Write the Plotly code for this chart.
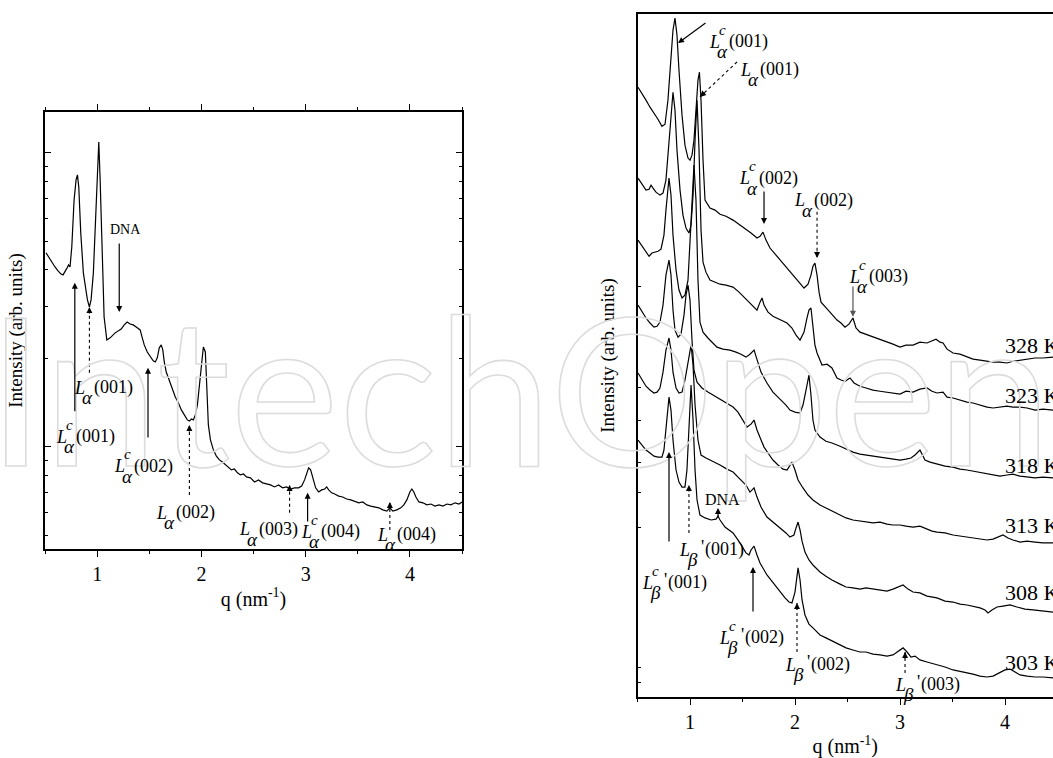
import numpy as np
import plotly.graph_objects as go

SERIF = "Liberation Serif"
W, H = 1053, 758

# ---------------- left panel: complex at room temperature ----------------
q_left = [0.510, 0.538, 0.567, 0.596, 0.625, 0.654, 0.673, 0.692, 0.712, 0.726,
          0.740, 0.757, 0.769, 0.779, 0.798, 0.811, 0.824, 0.843, 0.868, 0.885,
          0.907, 0.926, 0.942, 0.964, 0.981, 0.997, 1.016, 1.029, 1.045, 1.067,
          1.093, 1.125, 1.173, 1.202, 1.231, 1.260, 1.288, 1.317, 1.346, 1.375,
          1.413, 1.433, 1.452, 1.481, 1.510, 1.538, 1.558, 1.577, 1.596, 1.615,
          1.630, 1.644, 1.663, 1.692, 1.721, 1.750, 1.779, 1.808, 1.837, 1.865,
          1.885, 1.904, 1.923, 1.942, 1.962, 1.981, 2.000, 2.019, 2.038, 2.053,
          2.067, 2.087, 2.115, 2.144, 2.173, 2.202, 2.231, 2.260, 2.288, 2.317,
          2.346, 2.375, 2.404, 2.433, 2.471, 2.510, 2.548, 2.587, 2.625, 2.663,
          2.702, 2.740, 2.779, 2.817, 2.856, 2.894, 2.933, 2.962, 2.990, 3.010,
          3.029, 3.048, 3.067, 3.096, 3.125, 3.154, 3.183, 3.202, 3.221, 3.250,
          3.279, 3.317, 3.356, 3.394, 3.433, 3.471, 3.510, 3.548, 3.587, 3.625,
          3.663, 3.702, 3.740, 3.779, 3.808, 3.837, 3.875, 3.913, 3.942, 3.971,
          4.000, 4.019, 4.038, 4.058, 4.087, 4.125, 4.163, 4.202, 4.240, 4.279,
          4.317, 4.356, 4.394, 4.433, 4.471, 4.500]
# log10 of the intensity (arb. units)
lg_left = [0.660, 0.643, 0.629, 0.612, 0.599, 0.588, 0.585, 0.595, 0.609, 0.619,
           0.612, 0.680, 0.755, 0.840, 0.908, 0.925, 0.884, 0.728, 0.592, 0.544,
           0.500, 0.476, 0.500, 0.592, 0.738, 0.898, 1.037, 0.908, 0.704, 0.442,
           0.364, 0.371, 0.388, 0.395, 0.401, 0.415, 0.425, 0.418, 0.415, 0.408,
           0.398, 0.371, 0.347, 0.323, 0.306, 0.293, 0.289, 0.303, 0.337, 0.347,
           0.330, 0.289, 0.255, 0.228, 0.194, 0.170, 0.150, 0.126, 0.109, 0.092,
           0.088, 0.095, 0.092, 0.109, 0.143, 0.211, 0.296, 0.340, 0.323, 0.194,
           0.075, 0.024, -0.010, -0.031, -0.044, -0.051, -0.061, -0.071, -0.078, -0.075,
           -0.088, -0.095, -0.092, -0.102, -0.105, -0.119, -0.112, -0.122, -0.126, -0.129,
           -0.136, -0.129, -0.139, -0.136, -0.143, -0.139, -0.139, -0.133, -0.112, -0.088,
           -0.071, -0.078, -0.105, -0.139, -0.153, -0.146, -0.143, -0.136, -0.146, -0.156,
           -0.160, -0.167, -0.170, -0.177, -0.180, -0.184, -0.190, -0.187, -0.197, -0.201,
           -0.204, -0.207, -0.214, -0.218, -0.207, -0.218, -0.214, -0.207, -0.197, -0.180,
           -0.153, -0.143, -0.153, -0.170, -0.187, -0.190, -0.197, -0.194, -0.201, -0.197,
           -0.201, -0.194, -0.197, -0.190, -0.194, -0.187]

# ---------------- right panel: temperature scan (curves shifted) ----------------
temps = ["328 K", "323 K", "318 K", "313 K", "308 K", "303 K"]

q_328 = [0.505, 0.543, 0.581, 0.619, 0.657, 0.695, 0.733, 0.762, 0.790, 0.819,
         0.838, 0.857, 0.876, 0.895, 0.924, 0.952, 0.981, 1.000, 1.019, 1.038,
         1.057, 1.076, 1.090, 1.105, 1.124, 1.143, 1.190, 1.238, 1.286, 1.343,
         1.410, 1.467, 1.524, 1.581, 1.638, 1.667, 1.695, 1.724, 1.762, 1.829,
         1.886, 1.943, 2.000, 2.048, 2.086, 2.124, 2.152, 2.171, 2.190, 2.210,
         2.229, 2.248, 2.286, 2.333, 2.400, 2.438, 2.476, 2.514, 2.552, 2.581,
         2.619, 2.676, 2.743, 2.810, 2.876, 2.933, 3.000, 3.057, 3.124, 3.190,
         3.257, 3.305, 3.343, 3.381, 3.410, 3.448, 3.505, 3.571, 3.638, 3.695,
         3.762, 3.829, 3.886, 3.952, 4.019, 4.076, 4.143, 4.210, 4.286, 4.362,
         4.457]
lg_328 = [2.074, 2.054, 2.030, 2.006, 1.986, 1.965, 1.941, 1.948, 2.030, 2.183,
          2.268, 2.309, 2.251, 2.132, 1.979, 1.877, 1.833, 1.826, 1.843, 1.894,
          1.996, 2.098, 2.125, 2.030, 1.826, 1.690, 1.663, 1.656, 1.642, 1.635,
          1.622, 1.608, 1.591, 1.578, 1.561, 1.567, 1.581, 1.554, 1.527, 1.499,
          1.472, 1.448, 1.425, 1.404, 1.391, 1.404, 1.435, 1.465, 1.476, 1.435,
          1.377, 1.343, 1.326, 1.309, 1.282, 1.272, 1.258, 1.268, 1.289, 1.255,
          1.241, 1.234, 1.224, 1.217, 1.207, 1.200, 1.190, 1.197, 1.197, 1.207,
          1.204, 1.210, 1.217, 1.207, 1.204, 1.183, 1.170, 1.166, 1.156, 1.149,
          1.146, 1.142, 1.139, 1.139, 1.136, 1.142, 1.146, 1.149, 1.153, 1.153,
          1.156]

q_323 = [0.505, 0.543, 0.581, 0.610, 0.629, 0.648, 0.676, 0.714, 0.743, 0.771,
         0.800, 0.819, 0.838, 0.857, 0.876, 0.905, 0.933, 0.962, 0.990, 1.010,
         1.029, 1.048, 1.067, 1.086, 1.105, 1.124, 1.152, 1.190, 1.238, 1.286,
         1.343, 1.410, 1.467, 1.524, 1.581, 1.638, 1.667, 1.686, 1.705, 1.743,
         1.790, 1.848, 1.924, 1.971, 2.010, 2.048, 2.086, 2.114, 2.133, 2.152,
         2.171, 2.190, 2.210, 2.257, 2.305, 2.352, 2.400, 2.438, 2.476, 2.524,
         2.562, 2.619, 2.676, 2.743, 2.810, 2.876, 2.933, 3.000, 3.057, 3.124,
         3.190, 3.257, 3.305, 3.352, 3.410, 3.448, 3.505, 3.571, 3.638, 3.695,
         3.762, 3.829, 3.886, 3.952, 4.019, 4.076, 4.143, 4.210, 4.286, 4.362,
         4.457]
lg_323 = [1.765, 1.744, 1.724, 1.727, 1.741, 1.731, 1.717, 1.707, 1.714, 1.758,
          1.894, 1.996, 2.057, 1.996, 1.860, 1.724, 1.639, 1.595, 1.578, 1.605,
          1.707, 1.894, 2.030, 1.860, 1.588, 1.479, 1.445, 1.418, 1.411, 1.404,
          1.401, 1.394, 1.377, 1.357, 1.336, 1.316, 1.343, 1.357, 1.333, 1.309,
          1.295, 1.285, 1.272, 1.255, 1.231, 1.214, 1.241, 1.289, 1.316, 1.323,
          1.265, 1.197, 1.170, 1.129, 1.132, 1.119, 1.085, 1.078, 1.074, 1.085,
          1.068, 1.057, 1.051, 1.044, 1.040, 1.037, 1.034, 1.030, 1.040, 1.037,
          1.047, 1.051, 1.040, 1.034, 1.037, 1.020, 1.017, 1.010, 1.003, 1.000,
          0.993, 0.986, 0.983, 0.986, 0.989, 0.986, 0.986, 0.983, 0.976, 0.979,
          0.976]

q_318 = [0.505, 0.543, 0.581, 0.610, 0.638, 0.667, 0.695, 0.724, 0.752, 0.771,
         0.790, 0.800, 0.819, 0.838, 0.867, 0.895, 0.924, 0.952, 0.981, 1.000,
         1.019, 1.038, 1.057, 1.076, 1.095, 1.124, 1.171, 1.219, 1.257, 1.314,
         1.381, 1.438, 1.486, 1.533, 1.571, 1.610, 1.638, 1.676, 1.733, 1.790,
         1.857, 1.914, 1.952, 2.000, 2.048, 2.076, 2.105, 2.133, 2.152, 2.171,
         2.190, 2.238, 2.295, 2.352, 2.429, 2.486, 2.552, 2.619, 2.676, 2.743,
         2.810, 2.876, 2.933, 3.000, 3.057, 3.105, 3.143, 3.171, 3.190, 3.210,
         3.238, 3.286, 3.352, 3.429, 3.505, 3.571, 3.638, 3.695, 3.762, 3.829,
         3.886, 3.952, 4.019, 4.076, 4.143, 4.210, 4.286, 4.362, 4.457]
lg_318 = [1.554, 1.533, 1.513, 1.499, 1.510, 1.513, 1.516, 1.523, 1.571, 1.656,
          1.741, 1.765, 1.707, 1.571, 1.452, 1.384, 1.357, 1.367, 1.418, 1.554,
          1.724, 1.809, 1.690, 1.418, 1.275, 1.241, 1.221, 1.204, 1.190, 1.183,
          1.180, 1.173, 1.166, 1.156, 1.166, 1.180, 1.146, 1.105, 1.068, 1.037,
          1.013, 0.993, 0.976, 0.969, 0.966, 0.993, 1.044, 1.095, 1.027, 0.942,
          0.908, 0.884, 0.870, 0.864, 0.853, 0.843, 0.833, 0.826, 0.823, 0.819,
          0.816, 0.813, 0.809, 0.806, 0.809, 0.813, 0.823, 0.833, 0.840, 0.826,
          0.806, 0.799, 0.792, 0.785, 0.782, 0.775, 0.772, 0.768, 0.765, 0.758,
          0.755, 0.751, 0.755, 0.758, 0.751, 0.748, 0.745, 0.748, 0.745]

q_313 = [0.505, 0.543, 0.581, 0.619, 0.657, 0.686, 0.714, 0.743, 0.771, 0.800,
         0.819, 0.838, 0.857, 0.886, 0.914, 0.943, 0.962, 0.981, 1.000, 1.019,
         1.038, 1.067, 1.114, 1.171, 1.238, 1.305, 1.362, 1.410, 1.457, 1.505,
         1.543, 1.581, 1.610, 1.638, 1.667, 1.705, 1.743, 1.790, 1.838, 1.886,
         1.924, 1.952, 1.971, 2.000, 2.029, 2.076, 2.124, 2.171, 2.238, 2.295,
         2.352, 2.429, 2.486, 2.552, 2.619, 2.676, 2.743, 2.810, 2.876, 2.933,
         3.000, 3.057, 3.124, 3.190, 3.257, 3.305, 3.352, 3.429, 3.505, 3.571,
         3.638, 3.695, 3.762, 3.829, 3.886, 3.933, 3.981, 4.029, 4.076, 4.143,
         4.210, 4.286, 4.362, 4.457]
lg_313 = [1.333, 1.309, 1.289, 1.272, 1.258, 1.261, 1.275, 1.333, 1.435, 1.486,
          1.435, 1.316, 1.248, 1.224, 1.234, 1.299, 1.367, 1.401, 1.350, 1.214,
          1.112, 1.071, 1.051, 1.037, 1.023, 1.010, 0.996, 0.986, 0.969, 0.942,
          0.918, 0.928, 0.942, 0.908, 0.881, 0.850, 0.830, 0.806, 0.789, 0.775,
          0.772, 0.789, 0.799, 0.772, 0.738, 0.711, 0.687, 0.670, 0.653, 0.643,
          0.632, 0.619, 0.609, 0.602, 0.598, 0.595, 0.592, 0.595, 0.588, 0.585,
          0.585, 0.581, 0.578, 0.581, 0.571, 0.564, 0.561, 0.558, 0.551, 0.547,
          0.544, 0.541, 0.537, 0.534, 0.537, 0.544, 0.551, 0.541, 0.534, 0.527,
          0.530, 0.527, 0.524, 0.524]

q_308 = [0.505, 0.543, 0.581, 0.619, 0.657, 0.686, 0.714, 0.743, 0.771, 0.800,
         0.819, 0.838, 0.867, 0.895, 0.924, 0.952, 0.981, 1.010, 1.029, 1.048,
         1.076, 1.105, 1.152, 1.219, 1.286, 1.352, 1.410, 1.476, 1.533, 1.571,
         1.610, 1.638, 1.676, 1.733, 1.790, 1.857, 1.914, 1.952, 1.990, 2.010,
         2.029, 2.048, 2.067, 2.095, 2.133, 2.171, 2.238, 2.295, 2.352, 2.429,
         2.486, 2.552, 2.619, 2.676, 2.743, 2.810, 2.876, 2.933, 2.981, 3.029,
         3.076, 3.124, 3.190, 3.257, 3.352, 3.429, 3.505, 3.571, 3.638, 3.695,
         3.762, 3.810, 3.838, 3.876, 3.924, 3.981, 4.048, 4.114, 4.190, 4.267,
         4.362, 4.457]
lg_308 = [1.102, 1.078, 1.057, 1.044, 1.034, 1.037, 1.051, 1.105, 1.180, 1.221,
          1.180, 1.105, 1.051, 1.034, 1.037, 1.078, 1.139, 1.197, 1.129, 0.993,
          0.874, 0.823, 0.813, 0.802, 0.789, 0.775, 0.765, 0.741, 0.721, 0.697,
          0.711, 0.680, 0.646, 0.612, 0.595, 0.578, 0.558, 0.544, 0.551, 0.575,
          0.595, 0.568, 0.530, 0.493, 0.466, 0.449, 0.425, 0.411, 0.398, 0.384,
          0.374, 0.371, 0.367, 0.371, 0.367, 0.364, 0.360, 0.367, 0.374, 0.381,
          0.367, 0.357, 0.354, 0.343, 0.337, 0.326, 0.323, 0.316, 0.313, 0.309,
          0.303, 0.296, 0.286, 0.296, 0.306, 0.309, 0.313, 0.306, 0.299, 0.296,
          0.292, 0.289]

q_303 = [0.505, 0.543, 0.581, 0.619, 0.657, 0.695, 0.733, 0.752, 0.771, 0.790,
         0.800, 0.819, 0.838, 0.867, 0.895, 0.924, 0.952, 0.971, 0.990, 1.010,
         1.029, 1.048, 1.067, 1.095, 1.143, 1.200, 1.248, 1.267, 1.286, 1.333,
         1.410, 1.476, 1.533, 1.562, 1.581, 1.610, 1.638, 1.667, 1.733, 1.790,
         1.857, 1.905, 1.943, 1.971, 2.000, 2.019, 2.029, 2.048, 2.067, 2.095,
         2.133, 2.171, 2.238, 2.295, 2.352, 2.429, 2.486, 2.552, 2.619, 2.676,
         2.743, 2.810, 2.876, 2.933, 2.981, 3.029, 3.067, 3.105, 3.143, 3.190,
         3.257, 3.333, 3.429, 3.505, 3.571, 3.638, 3.695, 3.762, 3.829, 3.886,
         3.952, 4.000, 4.048, 4.095, 4.143, 4.210, 4.286, 4.362, 4.457]
lg_303 = [0.874, 0.857, 0.840, 0.830, 0.819, 0.816, 0.816, 0.840, 0.908, 0.993,
          1.020, 0.976, 0.874, 0.772, 0.731, 0.714, 0.714, 0.772, 0.925, 1.061,
          0.942, 0.772, 0.670, 0.619, 0.609, 0.602, 0.605, 0.615, 0.602, 0.578,
          0.558, 0.524, 0.490, 0.483, 0.500, 0.513, 0.483, 0.456, 0.415, 0.388,
          0.357, 0.337, 0.323, 0.320, 0.357, 0.415, 0.439, 0.398, 0.330, 0.279,
          0.248, 0.235, 0.211, 0.201, 0.190, 0.177, 0.167, 0.160, 0.153, 0.153,
          0.146, 0.143, 0.139, 0.143, 0.156, 0.167, 0.153, 0.136, 0.139, 0.126,
          0.119, 0.112, 0.102, 0.092, 0.088, 0.082, 0.078, 0.071, 0.068, 0.071,
          0.082, 0.092, 0.095, 0.085, 0.075, 0.071, 0.068, 0.068, 0.065]

right_curves = [(q_328, lg_328), (q_323, lg_323), (q_318, lg_318),
                (q_313, lg_313), (q_308, lg_308), (q_303, lg_303)]

x_ticks = [1, 2, 3, 4]
x_tick_text = ["1", "2", "3", "4"]

# ---------------- peak labels ----------------
# (superscript, phase symbol, primed, Miller index, q, log10 I) of the label start
left_labels = [
    ("c", "α", False, "(001)", 0.587, 0.034),
    (None, "α", False, "(001)", 0.760, 0.201),
    ("c", "α", False, "(002)", 1.144, -0.065),
    (None, "α", False, "(002)", 1.548, -0.224),
    (None, "α", False, "(003)", 2.346, -0.279),
    ("c", "α", False, "(004)", 2.933, -0.289),
    (None, "α", False, "(004)", 3.663, -0.299),
]
right_labels = [
    ("c", "α", False, "(001)", 1.162, 2.228),
    (None, "α", False, "(001)", 1.457, 2.133),
    ("c", "α", False, "(002)", 1.452, 1.765),
    (None, "α", False, "(002)", 1.971, 1.690),
    ("c", "α", False, "(003)", 2.495, 1.429),
    ("c", "β", True, "(001)", 0.524, 0.388),
    (None, "β", True, "(001)", 0.876, 0.500),
    ("c", "β", True, "(002)", 1.257, 0.201),
    (None, "β", True, "(002)", 1.886, 0.109),
    (None, "β", True, "(003)", 2.933, 0.041),
]
# arrows: (q tail, lgI tail, q head, lgI head, dotted, colour)
left_arrows = [
    (0.786, 0.116, 0.786, 0.558, False, "black"),
    (0.926, 0.252, 0.926, 0.476, True, "black"),
    (1.212, 0.697, 1.212, 0.459, False, "black"),
    (1.488, 0.027, 1.488, 0.269, False, "black"),
    (1.885, -0.163, 1.885, 0.075, True, "black"),
    (2.846, -0.224, 2.846, -0.129, True, "black"),
    (3.019, -0.259, 3.019, -0.156, False, "black"),
    (3.808, -0.282, 3.808, -0.187, True, "black"),
]
right_arrows = [
    (1.162, 2.296, 0.886, 2.224, False, "black"),
    (1.448, 2.160, 1.095, 2.041, True, "black"),
    (1.705, 1.724, 1.705, 1.609, False, "black"),
    (2.210, 1.650, 2.210, 1.493, True, "black"),
    (2.552, 1.401, 2.552, 1.293, False, "#555555"),
    (1.267, 0.605, 1.267, 0.643, False, "black"),
    (0.800, 0.524, 0.800, 0.833, False, "black"),
    (0.990, 0.558, 0.990, 0.721, True, "black"),
    (1.600, 0.286, 1.600, 0.442, False, "black"),
    (2.019, 0.153, 2.019, 0.320, True, "black"),
    (3.048, 0.082, 3.048, 0.153, True, "black"),
]
temp_label_pos = [(3.981, 1.197), (3.981, 1.027), (3.981, 0.789),
                  (3.981, 0.585), (3.981, 0.354), (3.981, 0.119)]

# ---------------- geometry ----------------
L_BOX = (45, 462, 112, 549)      # left, right, top, bottom in px
R_BOX = (637.5, 1053, 14, 697)
L_XR = [0.5, 4.5]
L_YR = [-0.347, 1.139]
R_XR = [0.5, 0.5 + (R_BOX[1] - R_BOX[0]) / 105.0]
R_YR = [0.0, 2.323]


def dom_x(b):
    return [b[0] / W, b[1] / W]


def dom_y(b):
    return [1 - b[3] / H, 1 - b[2] / H]


fig = go.Figure()

# publisher watermark, drawn as an outline (styled after rendering)
fig.add_annotation(xref="paper", yref="paper", x=-0.014, y=1 - 386 / H, text="IntechOpen",
                   showarrow=False, xanchor="left", yanchor="middle",
                   font=dict(family="Lato", size=206, color="#dddddd"))

line_style = dict(color="black", width=1.2)
fig.add_trace(go.Scatter(x=q_left, y=lg_left, mode="lines", line=line_style,
                         xaxis="x", yaxis="y", showlegend=False, hoverinfo="skip"))
for (qq, ll), name in zip(right_curves, temps):
    fig.add_trace(go.Scatter(x=qq, y=ll, mode="lines", line=line_style, name=name,
                             xaxis="x2", yaxis="y2", showlegend=False, hoverinfo="skip"))


def add_hkl(xr, yr, spec, size=18):
    sup, sym, prime, hkl, q, lg = spec
    base = dict(xref=xr, yref=yr, x=q, y=lg, showarrow=False,
                xanchor="left", yanchor="middle")
    fig.add_annotation(text="<i>L</i>", font=dict(family=SERIF, size=size, color="black"), **base)
    if sup:
        fig.add_annotation(text="<i>%s</i>" % sup, xshift=10, yshift=12,
                           font=dict(family=SERIF, size=size - 3, color="black"), **base)
    fig.add_annotation(text="<i>%s</i>" % sym, xshift=8, yshift=-10,
                       font=dict(family=SERIF, size=size + 1, color="black"), **base)
    off = 20
    if prime:
        fig.add_annotation(text="'", xshift=22, yshift=3,
                           font=dict(family=SERIF, size=size, color="black"), **base)
        off = 26
    fig.add_annotation(text=hkl, xshift=off,
                       font=dict(family=SERIF, size=size, color="black"), **base)


def add_arrow(xr, yr, spec, sx, sy):
    qt, lt, qh, lh, dotted, col = spec
    if not dotted:
        fig.add_annotation(xref=xr, yref=yr, axref=xr, ayref=yr, x=qh, y=lh, ax=qt, ay=lt,
                           text="", showarrow=True, arrowhead=2, arrowsize=1,
                           arrowwidth=1.2, arrowcolor=col, standoff=0)
    else:
        fig.add_shape(type="line", xref=xr, yref=yr, x0=qt, y0=lt, x1=qh, y1=lh,
                      line=dict(color=col, width=1.1, dash="dot"))
        dx = (qt - qh) * sx
        dy = -(lt - lh) * sy
        n = (dx * dx + dy * dy) ** 0.5
        fig.add_annotation(xref=xr, yref=yr, x=qh, y=lh, ax=dx / n * 8, ay=dy / n * 8,
                           text="", showarrow=True, arrowhead=2, arrowsize=1,
                           arrowwidth=1.2, arrowcolor=col, standoff=0)


lsx = (L_BOX[1] - L_BOX[0]) / (L_XR[1] - L_XR[0])
lsy = (L_BOX[3] - L_BOX[2]) / (L_YR[1] - L_YR[0])
rsx = (R_BOX[1] - R_BOX[0]) / (R_XR[1] - R_XR[0])
rsy = (R_BOX[3] - R_BOX[2]) / (R_YR[1] - R_YR[0])

for s in left_labels:
    add_hkl("x", "y", s)
for s in right_labels:
    add_hkl("x2", "y2", s)
for a in left_arrows:
    add_arrow("x", "y", a, lsx, lsy)
for a in right_arrows:
    add_arrow("x2", "y2", a, rsx, rsy)

fig.add_annotation(xref="x", yref="y", x=1.269, y=0.738, text="DNA", showarrow=False,
                   font=dict(family=SERIF, size=14, color="black"))
fig.add_annotation(xref="x2", yref="y2", x=1.314, y=0.673, text="DNA", showarrow=False,
                   font=dict(family=SERIF, size=16, color="black"))

for (tq, tl), name in zip(temp_label_pos, temps):
    fig.add_annotation(xref="x2", yref="y2", x=tq, y=tl, text=name, showarrow=False,
                       xanchor="left", yanchor="middle",
                       font=dict(family=SERIF, size=22, color="black"))

tickfont = dict(family=SERIF, size=20, color="black")
titlefont = dict(family=SERIF, size=20, color="black")

lg_major = [0.0, 1.0]
lg_minor = list(np.log10([0.5, 0.6, 0.7, 0.8, 0.9, 2, 3, 4, 5, 6, 7, 8, 9]))
r_ticks = [0.051, 0.099, 0.575, 0.697, 0.799, 0.942, 1.051, 1.395]

xcommon = dict(tickmode="array", tickvals=x_ticks, ticktext=x_tick_text, ticks="outside",
               ticklen=6, tickwidth=1.3, tickcolor="black", showline=True, linecolor="black",
               linewidth=1.6, showgrid=False, zeroline=False, tickfont=tickfont,
               minor=dict(dtick=0.5, tick0=0.5, ticks="outside", ticklen=3,
                          tickwidth=1.2, tickcolor="black", showgrid=False),
               title=dict(text="q (nm<sup>-1</sup>)", font=titlefont, standoff=8))

fig.update_layout(
    width=W, height=H, autosize=False,
    margin=dict(l=0, r=0, t=0, b=0),
    paper_bgcolor="white", plot_bgcolor="white",
    xaxis=dict(domain=dom_x(L_BOX), range=L_XR, anchor="y", mirror="ticks", **xcommon),
    yaxis=dict(domain=dom_y(L_BOX), range=L_YR, anchor="x", tickmode="array",
               tickvals=lg_major, ticks="inside", ticklen=6, tickwidth=1.2,
               tickcolor="black", showticklabels=False, showline=True,
               linecolor="black", linewidth=1.6, mirror="ticks", showgrid=False,
               zeroline=False,
               minor=dict(tickmode="array", tickvals=lg_minor, ticks="inside",
                          ticklen=3, tickwidth=1.2, tickcolor="black", showgrid=False),
               title=dict(text="Intensity (arb. units)", font=dict(family=SERIF, size=19, color="black"),
                          standoff=16)),
    xaxis2=dict(domain=dom_x(R_BOX), range=R_XR, anchor="y2", mirror=True, **xcommon),
    yaxis2=dict(domain=dom_y(R_BOX), range=R_YR, anchor="x2", tickmode="array",
                tickvals=r_ticks, ticks="inside", ticklen=4, tickwidth=1.2,
                tickcolor="black", showticklabels=False, showline=True,
                linecolor="black", linewidth=1.6, mirror=False, showgrid=False,
                zeroline=False,
                title=dict(text="Intensity (arb. units)", font=dict(family=SERIF, size=19, color="black"),
                           standoff=16)),
)

outline_js = """
document.body.style.margin='0';
document.body.style.overflow='hidden';
document.querySelectorAll('.annotation-text').forEach(function(t){
  if (t.textContent === 'IntechOpen') {
    t.style.fill = 'none';
    t.style.stroke = '#dcdcdc';
    t.style.strokeWidth = '1.6px';
  }
});
"""
fig.write_html("out.html", include_plotlyjs=True, config={"displayModeBar": False},
               post_script=outline_js)
